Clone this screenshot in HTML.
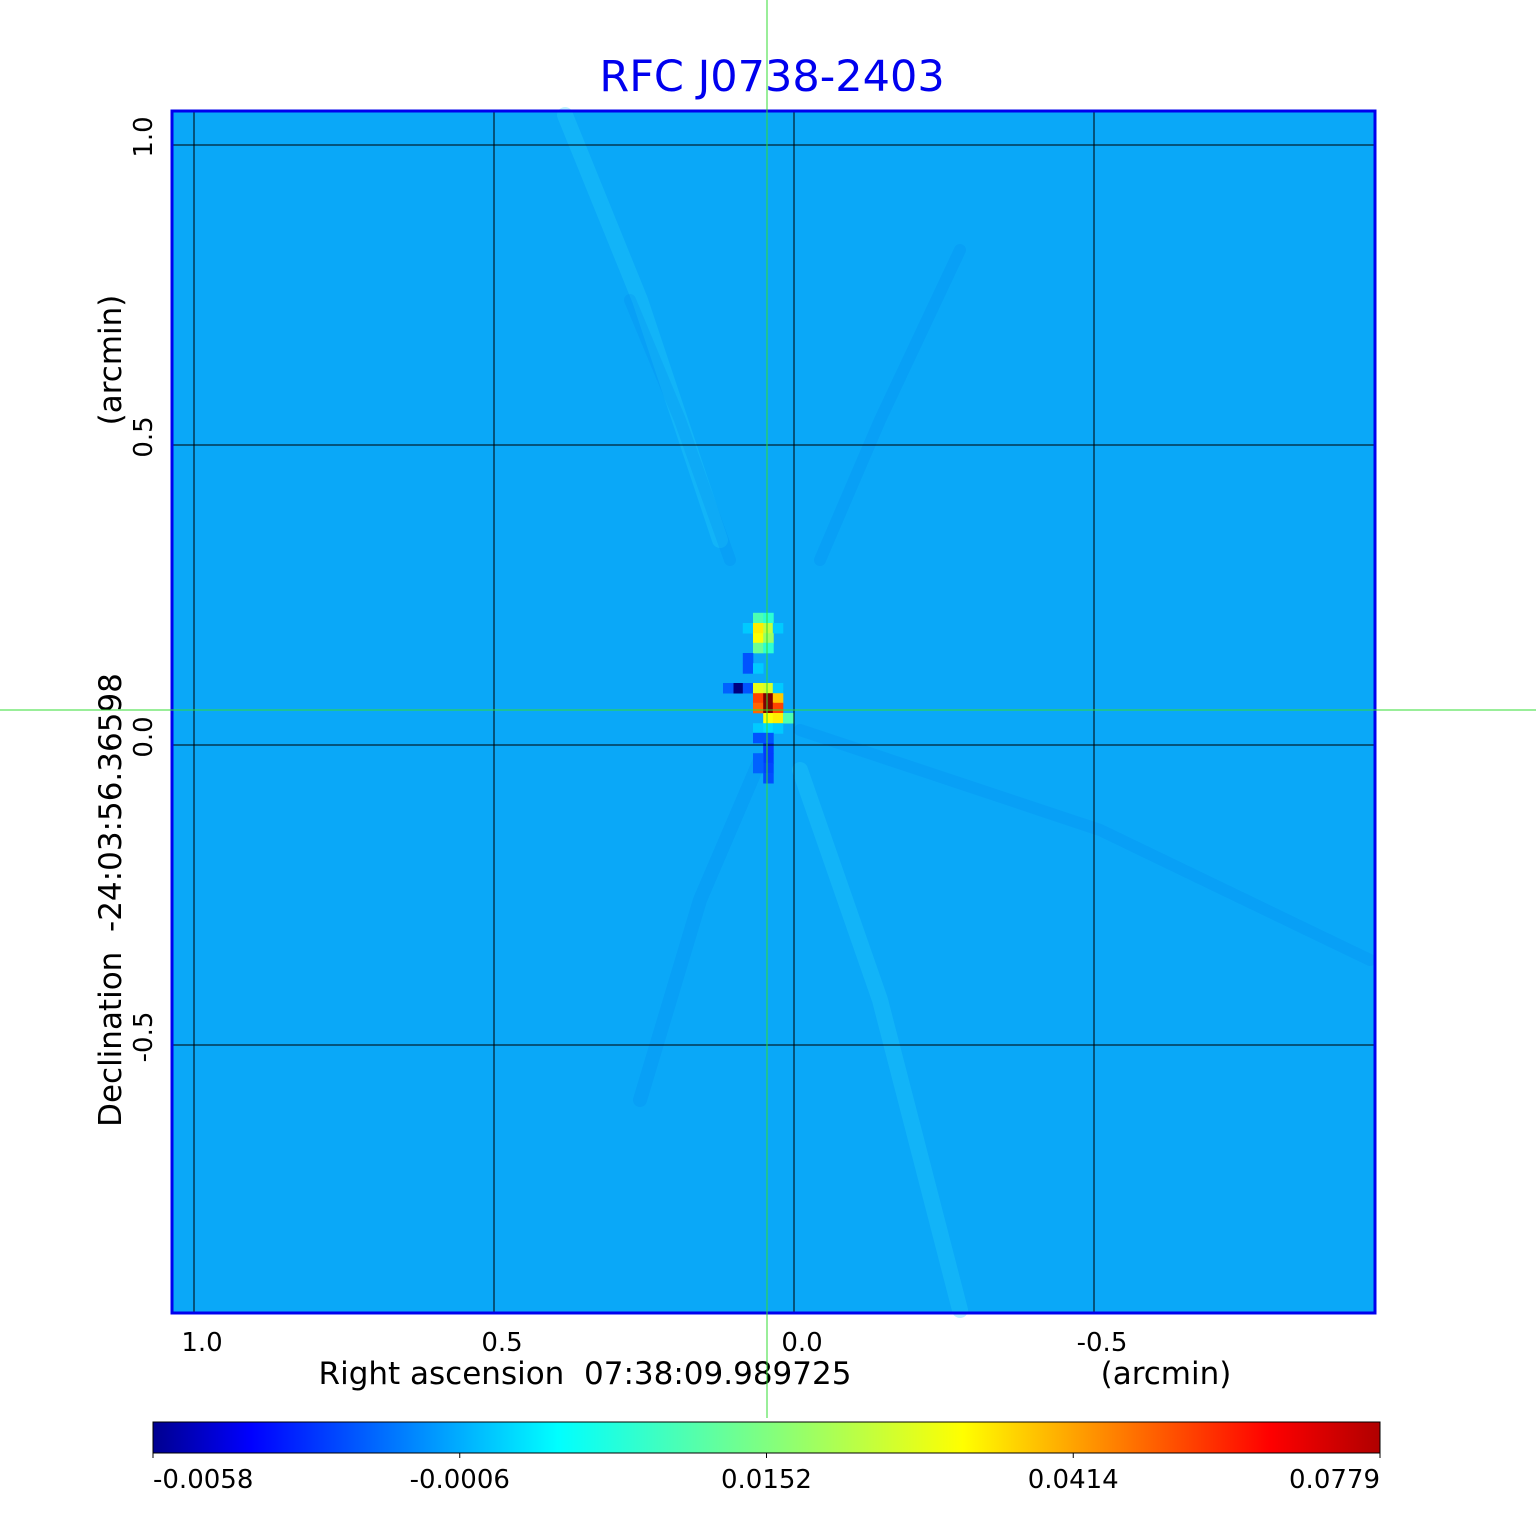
<!DOCTYPE html>
<html><head><meta charset="utf-8"><style>
html,body{margin:0;padding:0;background:#fff;}
svg text{font-family:"DejaVu Sans","Liberation Sans",sans-serif;white-space:pre;}
</style></head><body>
<svg width="1536" height="1511" viewBox="0 0 1536 1511" xmlns="http://www.w3.org/2000/svg">
<defs>
<linearGradient id="jet" x1="0" x2="1" y1="0" y2="0">
<stop offset="0" stop-color="#00008f"/><stop offset="0.08" stop-color="#0000ff"/>
<stop offset="0.33" stop-color="#00ffff"/><stop offset="0.5" stop-color="#80ff80"/>
<stop offset="0.66" stop-color="#ffff00"/><stop offset="0.91" stop-color="#ff0000"/>
<stop offset="1" stop-color="#b00000"/>
</linearGradient>
</defs>
<text x="772" y="91" text-anchor="middle" font-size="43" fill="#0000ee">RFC J0738-2403</text>
<rect x="172" y="111" width="1203" height="1202" fill="rgb(10,168,248)"/>
<g fill="none" stroke-linecap="round">
<path d="M565 115 L640 300 L720 540" stroke="rgb(40,210,250)" stroke-width="16" opacity="0.3"/>
<path d="M800 770 L880 1000 L960 1310" stroke="rgb(40,210,250)" stroke-width="16" opacity="0.3"/>
<path d="M760 760 L700 900 L640 1100" stroke="rgb(0,130,240)" stroke-width="14" opacity="0.2"/>
<path d="M800 730 L1100 830 L1370 960" stroke="rgb(0,130,240)" stroke-width="12" opacity="0.2"/>
<path d="M820 560 L880 420 L960 250" stroke="rgb(0,130,240)" stroke-width="12" opacity="0.18"/>
<path d="M730 560 L680 420 L630 300" stroke="rgb(0,130,240)" stroke-width="12" opacity="0.18"/>
</g>
<g id="cells"></g>
<g id="grid"></g>
<rect x="172" y="111" width="1203" height="1202" fill="none" stroke="#0000ee" stroke-width="3"/>
<g id="ticks"></g>
<text x="585" y="1384" text-anchor="middle" font-size="31" fill="#000" xml:space="preserve">Right ascension  07:38:09.989725</text>
<text x="1166" y="1384" text-anchor="middle" font-size="31" fill="#000">(arcmin)</text>
<text transform="translate(121,900) rotate(-90)" text-anchor="middle" font-size="31" fill="#000" xml:space="preserve">Declination  -24:03:56.36598</text>
<text transform="translate(121,360) rotate(-90)" text-anchor="middle" font-size="31" fill="#000">(arcmin)</text>
<rect x="153" y="1422" width="1227" height="31" fill="url(#jet)" stroke="#000" stroke-width="1"/>
<g id="cbticks"></g>
<line x1="767" y1="0" x2="767" y2="1418" stroke="#33dd33" stroke-width="1"/>
<line x1="0" y1="710" x2="1536" y2="710" stroke="#33dd33" stroke-width="1"/>
</svg>
<script>
// Axis data (arcmin)
const raTicks = [1.0, 0.5, 0.0, -0.5];
const raTickLabels = ["1.0", "0.5", "0.0", "-0.5"];
const decTicks = [1.0, 0.5, 0.0, -0.5];
const decTickLabels = ["1.0", "0.5", "0.0", "-0.5"];
const cbTickValues = [-0.0058, -0.0006, 0.0152, 0.0414, 0.0779];
const cbTickLabels = ["-0.0058", "-0.0006", "0.0152", "0.0414", "0.0779"];
// Source cells: RA offset, Dec offset (arcmin), flux
const cellRA  = [0.060,0.043, 0.077,0.060,0.043,0.027, 0.060,0.043, 0.060,0.043, 0.077, 0.077,0.060,
                 0.093,0.077,0.060,0.043,0.027, 0.060,0.043,0.027, 0.060,0.043,0.027, 0.043,0.027,0.010,
                 0.060,0.043,0.027, 0.060,0.043, 0.043,0.043,0.043,0.043, 0.060,0.060, 0.110];
const cellDec = [0.212,0.212, 0.195,0.195,0.195,0.195, 0.178,0.178, 0.162,0.162, 0.145, 0.128,0.128,
                 0.095,0.095,0.095,0.095,0.095, 0.078,0.078,0.078, 0.062,0.062,0.062, 0.045,0.045,0.045,
                 0.028,0.028,0.028, 0.012,0.012, -0.005,-0.022,-0.038,-0.055, -0.022,-0.038, 0.095];
const cellVal = [0.012,0.010, 0.004,0.030,0.022,0.004, 0.028,0.018, 0.014,0.010, -0.0015, -0.0015,0.004,
                 -0.0058,-0.0015,0.026,0.024,0.004, 0.050,0.0779,0.034, 0.045,0.0779,0.050, 0.028,0.030,0.012,
                 0.004,0.005,0.004, -0.0015,-0.0015, -0.0020,-0.0020,-0.0018,-0.0016, -0.0012,-0.0012, -0.0012];
const NS = "http://www.w3.org/2000/svg";
const X0 = 794, Y0 = 745, PX = 600, CELL = 10;
const xs = v => X0 - v * PX;
const ys = v => Y0 - v * PX;
function frac(v){
  for(let i=0;i<cbTickValues.length-1;i++){
    if(v<=cbTickValues[i+1]||i===cbTickValues.length-2){
      let t=(v-cbTickValues[i])/(cbTickValues[i+1]-cbTickValues[i]);
      t=Math.max(0,Math.min(1,t));
      return (i+t)/(cbTickValues.length-1);
    }
  }
}
function jet(t){
  const c=x=>Math.round(255*Math.max(0,Math.min(1,1.5-Math.abs(x))));
  return `rgb(${c(4*t-3)},${c(4*t-2)},${c(4*t-1)})`;
}
const cg=document.getElementById('cells');
for(let i=0;i<cellVal.length;i++){
  const r=document.createElementNS(NS,'rect');
  r.setAttribute('x',xs(cellRA[i])-CELL/2);
  r.setAttribute('y',ys(cellDec[i])-CELL/2);
  r.setAttribute('width',CELL+0.5);r.setAttribute('height',CELL+0.5);
  r.setAttribute('fill',jet(frac(cellVal[i])));
  
  
  cg.appendChild(r);
}
const gg=document.getElementById('grid'), tg=document.getElementById('ticks');
raTicks.forEach((v,i)=>{
  const l=document.createElementNS(NS,'line');
  l.setAttribute('x1',xs(v));l.setAttribute('x2',xs(v));l.setAttribute('y1',111);l.setAttribute('y2',1313);
  l.setAttribute('stroke','#000');l.setAttribute('stroke-width','1');
  
  
  gg.appendChild(l);
  const t=document.createElementNS(NS,'text');
  t.setAttribute('x',xs(v)+8);t.setAttribute('y',1351);t.setAttribute('font-size','26');t.setAttribute('text-anchor','middle');
  t.textContent=raTickLabels[i];
  
  
  tg.appendChild(t);
});
decTicks.forEach((v,i)=>{
  const l=document.createElementNS(NS,'line');
  l.setAttribute('y1',ys(v));l.setAttribute('y2',ys(v));l.setAttribute('x1',172);l.setAttribute('x2',1375);
  l.setAttribute('stroke','#000');l.setAttribute('stroke-width','1');
  
  
  gg.appendChild(l);
  const t=document.createElementNS(NS,'text');
  t.setAttribute('transform',`translate(152,${ys(v)-8}) rotate(-90)`);t.setAttribute('font-size','26');t.setAttribute('text-anchor','middle');
  t.textContent=decTickLabels[i];
  
  
  tg.appendChild(t);
});
const cbg=document.getElementById('cbticks');
cbTickValues.forEach((v,i)=>{
  const x=153+frac(v)*1227;
  const l=document.createElementNS(NS,'line');
  l.setAttribute('x1',x);l.setAttribute('x2',x);l.setAttribute('y1',1453);l.setAttribute('y2',1458);l.setAttribute('stroke','#000');
  
  
  cbg.appendChild(l);
  const t=document.createElementNS(NS,'text');
  const anchor=i===0?'start':(i===cbTickValues.length-1?'end':'middle');
  t.setAttribute('x',x);t.setAttribute('y',1488);t.setAttribute('font-size','26');t.setAttribute('text-anchor',anchor);
  t.textContent=cbTickLabels[i];
  
  
  cbg.appendChild(t);
});
</script>
</body></html>
